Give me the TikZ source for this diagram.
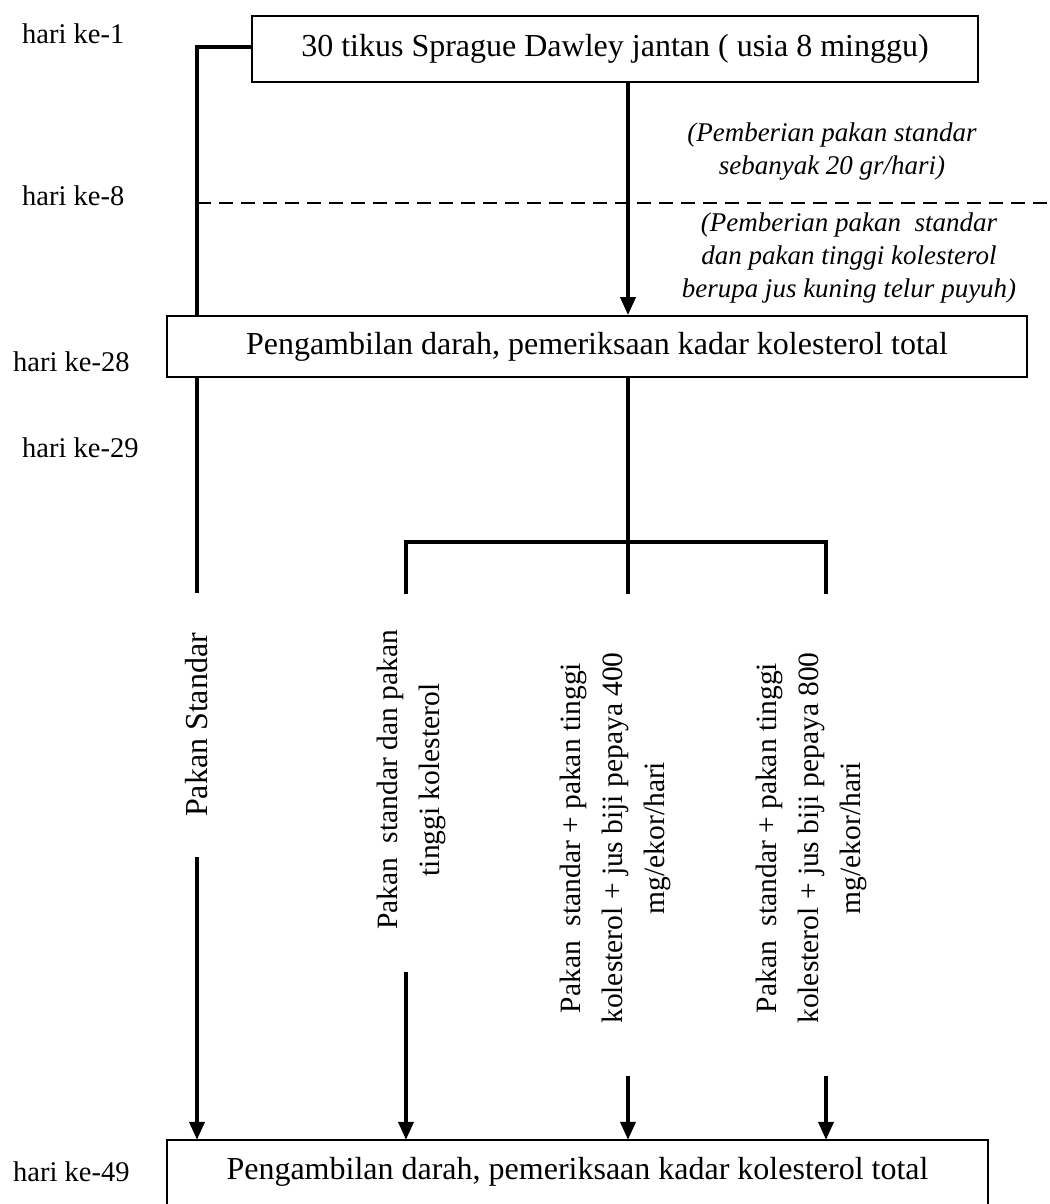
\documentclass[tikz,border=0pt]{standalone}
\usepackage{fontspec}
\setmainfont{Liberation Serif}
\usetikzlibrary{arrows.meta}
\begin{document}
\begin{tikzpicture}[x=1pt,y=-1pt,
  boxline/.style={line width=1.8pt},
  box/.style={draw,boxline,inner sep=0pt,font=\fontsize{32}{38}\selectfont},
  conn/.style={line width=3.8pt},
  arr/.style={conn,-{Triangle[length=18pt,width=15pt]}},
  daylbl/.style={anchor=west,inner sep=0pt,font=\fontsize{28.5}{34}\selectfont},
  note/.style={align=center,inner sep=0pt,font=\fontsize{27}{33}\selectfont\itshape},
  grp/.style={rotate=90,align=center,inner ysep=0pt,inner xsep=45pt,font=\fontsize{29.5}{42}\selectfont},
  dashline/.style={line width=2pt,dash pattern=on 14pt off 8pt}]
\useasboundingbox (0,0) rectangle (1049,1204);

% boxes
\node[box,minimum width=726pt,minimum height=66pt] (start) at (615,49) {30 tikus Sprague Dawley jantan ( usia 8 minggu)};
\node[box,minimum width=860pt,minimum height=61pt] (mid) at (597,346.5) {Pengambilan darah, pemeriksaan kadar kolesterol total};
\node[inner sep=0pt,minimum width=821pt,minimum height=64pt,font=\fontsize{32}{38}\selectfont] (end) at (577.5,1172) {Pengambilan darah, pemeriksaan kadar kolesterol total};
\draw[boxline] (end.south west) -- (end.north west) -- (end.north east) -- (end.south east);

% day labels
\node[daylbl] (d1) at (22,34) {hari ke-1};
\node[daylbl] (d8) at (22,196) {hari ke-8};
\node[daylbl] (d28) at (13,362) {hari ke-28};
\node[daylbl] (d29) at (22,448) {hari ke-29};
\node[daylbl] (d49) at (13,1172) {hari ke-49};

% notes
\node[note] (n1) at (832,152) {(Pemberian pakan standar\\sebanyak 20 gr/hari)};
\node[note] (n2) at (849,258) {(Pemberian pakan\ \ standar\\dan pakan tinggi kolesterol\\berupa jus kuning telur puyuh)};

% dashed line
\coordinate (dl) at (197,203);
\coordinate (dr) at (1049,203);
\draw[dashline] (dl) -- (dr);

% column coordinates
\coordinate (lc) at (197,0);
\coordinate (cc) at (628,0);
\coordinate (br) at (628,542);
\coordinate (b2) at (406,594);
\coordinate (b3) at (628,594);
\coordinate (b4) at (826,594);

% rotated group labels
\node[grp,font=\fontsize{32}{42}\selectfont,inner xsep=40pt] (g1) at (197,725) {Pakan Standar};
\node[grp,inner xsep=42pt] (g2) at (411,780) {Pakan\ \ standar dan pakan\\tinggi kolesterol};
\node[grp,inner xsep=52pt] (g3) at (615,838) {Pakan\ \ standar + pakan tinggi\\kolesterol + jus biji pepaya 400\\mg/ekor/hari};
\node[grp,inner xsep=52pt] (g4) at (811,838) {Pakan\ \ standar + pakan tinggi\\kolesterol + jus biji pepaya 800\\mg/ekor/hari};

% connectors
\draw[conn] ([yshift=2pt]start.west) -| (mid.north -| lc);
\draw[arr] (start.south -| cc) -- (mid.north -| cc);
\draw[conn] (mid.south -| cc) -- (b3);
\draw[conn] (b2) -- (b2 |- br) -- (b4 |- br) -- (b4);
\draw[conn] (mid.south -| lc) -- (g1.east);
\draw[arr] (g1.west) -- (end.north -| lc);
\draw[arr] (g2.west -| b2) -- (end.north -| b2);
\draw[arr] (g3.west -| b3) -- (end.north -| b3);
\draw[arr] (g4.west -| b4) -- (end.north -| b4);
\end{tikzpicture}
\end{document}
